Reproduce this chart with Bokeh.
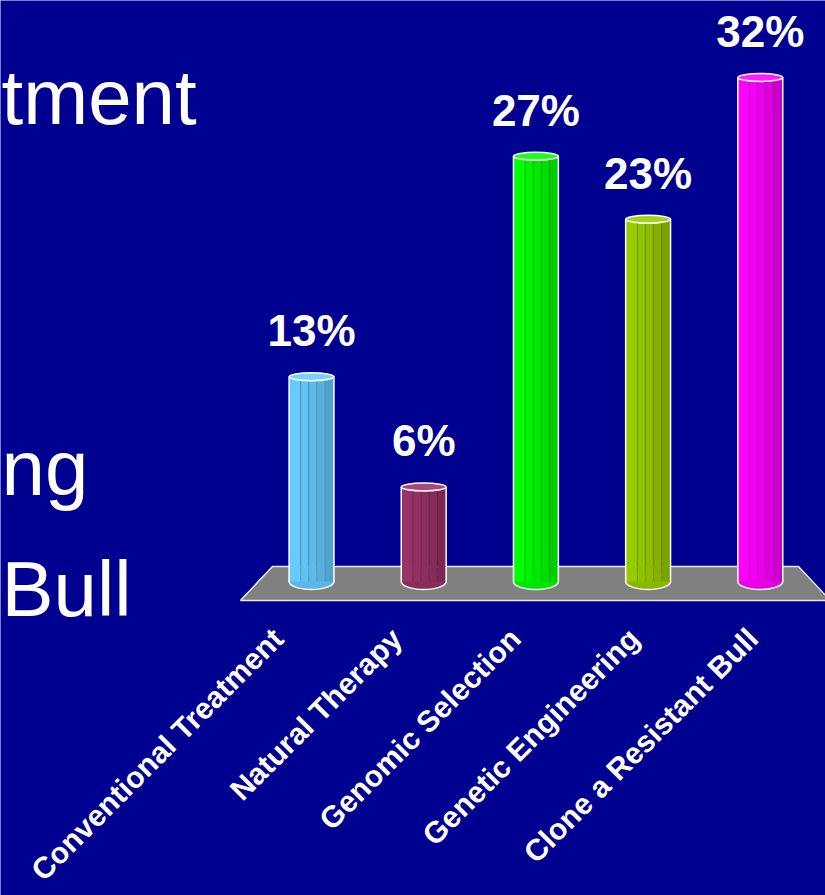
import numpy as np
from bokeh.plotting import figure
from bokeh.models import ColumnDataSource, Range1d, Label
from bokeh.core.properties import value
from bokeh.embed import file_html
from bokeh.resources import INLINE

# ---- data ----
categories = ["Conventional Treatment", "Natural Therapy", "Genomic Selection",
              "Genetic Engineering", "Clone a Resistant Bull"]
percentages = [13, 6, 27, 23, 32]
value_labels = ["13%", "6%", "27%", "23%", "32%"]
bar_colors = ["#66CCFF", "#993366", "#00FF00", "#99CC00", "#FF00FF"]
slide_text = ["tment", "ng", "Bull"]

# ---- style ----
BG = "#000090"
FONT = "Liberation Sans"
BAR_W = 0.40
facet_edges = [-0.5, -0.24, -0.06, 0.12, 0.30, 0.5]
facet_shades = [1.0, 0.96, 0.92, 0.87, 0.80]


def shade(hexc, f):
    h = hexc.lstrip("#")
    r, g, b = (int(h[i:i + 2], 16) for i in (0, 2, 4))
    return "#%02x%02x%02x" % (int(r * f), int(g * f), int(b * f))


def tint(hexc, f):
    h = hexc.lstrip("#")
    r, g, b = (int(h[i:i + 2], 16) for i in (0, 2, 4))
    return "#%02x%02x%02x" % (int(r + (255 - r) * f), int(g + (255 - g) * f), int(b + (255 - b) * f))


n = len(categories)
xs = np.arange(n, dtype=float)
vals = np.array(percentages, dtype=float)

p = figure(width=825, height=895, output_backend="svg", toolbar_location=None,
           x_range=Range1d(-2.772, 4.581), y_range=Range1d(-19.94, 36.89),
           min_border=0, min_border_left=0, min_border_right=0,
           min_border_top=0, min_border_bottom=0)
p.axis.visible = False
p.grid.visible = False
p.outline_line_color = None
p.background_fill_color = BG
p.border_fill_color = BG

# floor (parallelogram derived from the category span)
back_l, back_r = -0.348, (n - 1) + 0.34
shear = 0.285
y_back, y_front = 0.95, -1.21
p.patch(x=[back_l, back_r, back_r + shear, back_l - shear],
        y=[y_back, y_back, y_front, y_front],
        fill_color="#808080", line_color="#E8E8F0", line_width=1.5)

# bottom caps (behind bodies)
p.ellipse(x=xs, y=np.zeros(n), width=BAR_W, height=16, height_units="screen",
          fill_color=[shade(c, 0.9) for c in bar_colors], line_color="white", line_width=1.5)

# bar bodies as shaded facets
for k in range(len(facet_shades)):
    e0, e1 = facet_edges[k], facet_edges[k + 1]
    src = ColumnDataSource(dict(x=xs + (e0 + e1) / 2 * BAR_W, top=vals,
                                color=[shade(c, facet_shades[k]) for c in bar_colors]))
    p.vbar(x="x", width=(e1 - e0) * BAR_W, top="top", bottom=0, source=src,
           fill_color="color", line_color=None)

# thin facet lines
for k in range(1, len(facet_edges) - 1):
    xe = xs + facet_edges[k] * BAR_W
    p.segment(x0=xe, y0=np.zeros(n), x1=xe, y1=vals,
              line_color=[shade(c, 0.7) for c in bar_colors], line_width=1, line_alpha=0.7)

# white side outlines
p.segment(x0=xs - BAR_W / 2, y0=np.zeros(n), x1=xs - BAR_W / 2, y1=vals, line_color="white", line_width=1.5)
p.segment(x0=xs + BAR_W / 2, y0=np.zeros(n), x1=xs + BAR_W / 2, y1=vals, line_color="white", line_width=1.5)

# top caps
p.ellipse(x=xs, y=vals, width=BAR_W, height=8, height_units="screen",
          fill_color=[tint(c, 0.12) for c in bar_colors], line_color="white", line_width=1.5)

# value labels
p.text(x=xs, y=vals, text=value_labels, text_align="center", text_baseline="alphabetic",
       y_offset=-46, text_color="white", text_font=value(FONT), text_font_style="bold",
       text_font_size="44px")

# rotated category labels (perspective spread)
label_x = xs * 1.058 - 0.30
p.text(x=label_x, y=np.full(n, -3.30), text=categories, angle=np.pi / 4,
       text_align="right", text_baseline="alphabetic", text_color="white",
       text_font=value(FONT), text_font_style="bold", text_font_size="30px")

# partial slide text at the left edge
for t, by in zip(slide_text, [96, 467, 588]):
    p.add_layout(Label(x=1, y=895 - by, x_units="screen", y_units="screen", text=t,
                       text_align="left", text_baseline="alphabetic", text_color="white",
                       text_font=FONT, text_font_size="78px"))

open("out.html", "w").write(file_html(p, INLINE))
